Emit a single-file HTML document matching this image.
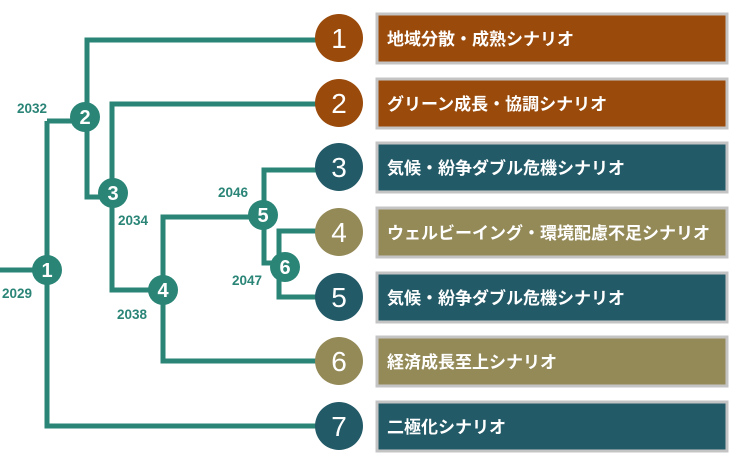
<!DOCTYPE html>
<html><head><meta charset="utf-8"><style>
body{margin:0;background:#fff;width:749px;height:461px;overflow:hidden;}
svg{display:block}
.y{font-family:"Liberation Sans",sans-serif;font-size:13.5px;font-weight:bold;fill:#2a8577}
.n{font-family:"Liberation Sans",sans-serif;font-weight:bold;fill:#fff;text-anchor:middle}
.b{font-family:"Liberation Sans","Noto Sans CJK JP",sans-serif;font-size:17px;font-weight:bold;fill:#fff}
.N{font-family:"Liberation Sans",sans-serif;font-size:28px;fill:#fff;text-anchor:middle}
</style></head><body>
<svg width="749" height="461" viewBox="0 0 749 461">
<g stroke="#2a8577" stroke-width="5" fill="none" stroke-linejoin="miter">
<path d="M0 270H47"/>
<path d="M339 40H87V197H113"/>
<path d="M47 121H85"/>
<path d="M339 104H112V290H163"/>
<path d="M47 121V426H339"/>
<path d="M339 361H163V217H263"/>
<path d="M339 170H264V263H282"/>
<path d="M339 231H279V297H339"/>
</g>
<g fill="#2a8577">
<circle cx="47" cy="270" r="15"/><circle cx="85" cy="117" r="15"/><circle cx="113" cy="193" r="15"/>
<circle cx="163" cy="290" r="15"/><circle cx="263" cy="215" r="15"/><circle cx="285" cy="267" r="15"/>
</g>
<g class="n" font-size="20">
<text x="47" y="277">1</text><text x="85" y="124">2</text><text x="113" y="200">3</text>
<text x="163" y="297">4</text><text x="263" y="222">5</text><text x="285" y="274">6</text>
</g>
<g class="y">
<text x="17" y="113">2032</text><text x="2" y="298">2029</text><text x="118" y="225">2034</text>
<text x="117" y="319">2038</text><text x="218" y="197">2046</text><text x="232" y="285">2047</text>
</g>
<g>
<circle cx="339" cy="38" r="24" fill="#9a4a0a"/><circle cx="339" cy="103" r="24" fill="#9a4a0a"/>
<circle cx="339" cy="167" r="24" fill="#235a67"/><circle cx="339" cy="232" r="24" fill="#948a58"/>
<circle cx="339" cy="297" r="24" fill="#235a67"/><circle cx="339" cy="361" r="24" fill="#948a58"/>
<circle cx="339" cy="426" r="24" fill="#235a67"/>
</g>
<g class="N">
<text x="339" y="48">1</text><text x="339" y="113">2</text><text x="339" y="177">3</text><text x="339" y="242">4</text>
<text x="339" y="307">5</text><text x="339" y="371">6</text><text x="339" y="436">7</text>
</g>
<g stroke="#c4c4c4" stroke-width="3">
<rect x="377" y="14" width="350" height="49" fill="#9a4a0a"/>
<rect x="377" y="79" width="350" height="49" fill="#9a4a0a"/>
<rect x="377" y="143" width="350" height="49" fill="#235a67"/>
<rect x="377" y="208" width="350" height="49" fill="#948a58"/>
<rect x="377" y="273" width="350" height="49" fill="#235a67"/>
<rect x="377" y="337" width="350" height="49" fill="#948a58"/>
<rect x="377" y="402" width="350" height="49" fill="#235a67"/>
</g>
<g class="b">
<text x="387" y="45">地域分散・成熟シナリオ</text>
<text x="387" y="110">グリーン成長・協調シナリオ</text>
<text x="387" y="174">気候・紛争ダブル危機シナリオ</text>
<text x="387" y="239">ウェルビーイング・環境配慮不足シナリオ</text>
<text x="387" y="304">気候・紛争ダブル危機シナリオ</text>
<text x="387" y="368">経済成長至上シナリオ</text>
<text x="387" y="433">二極化シナリオ</text>
</g>
</svg>
</body></html>
